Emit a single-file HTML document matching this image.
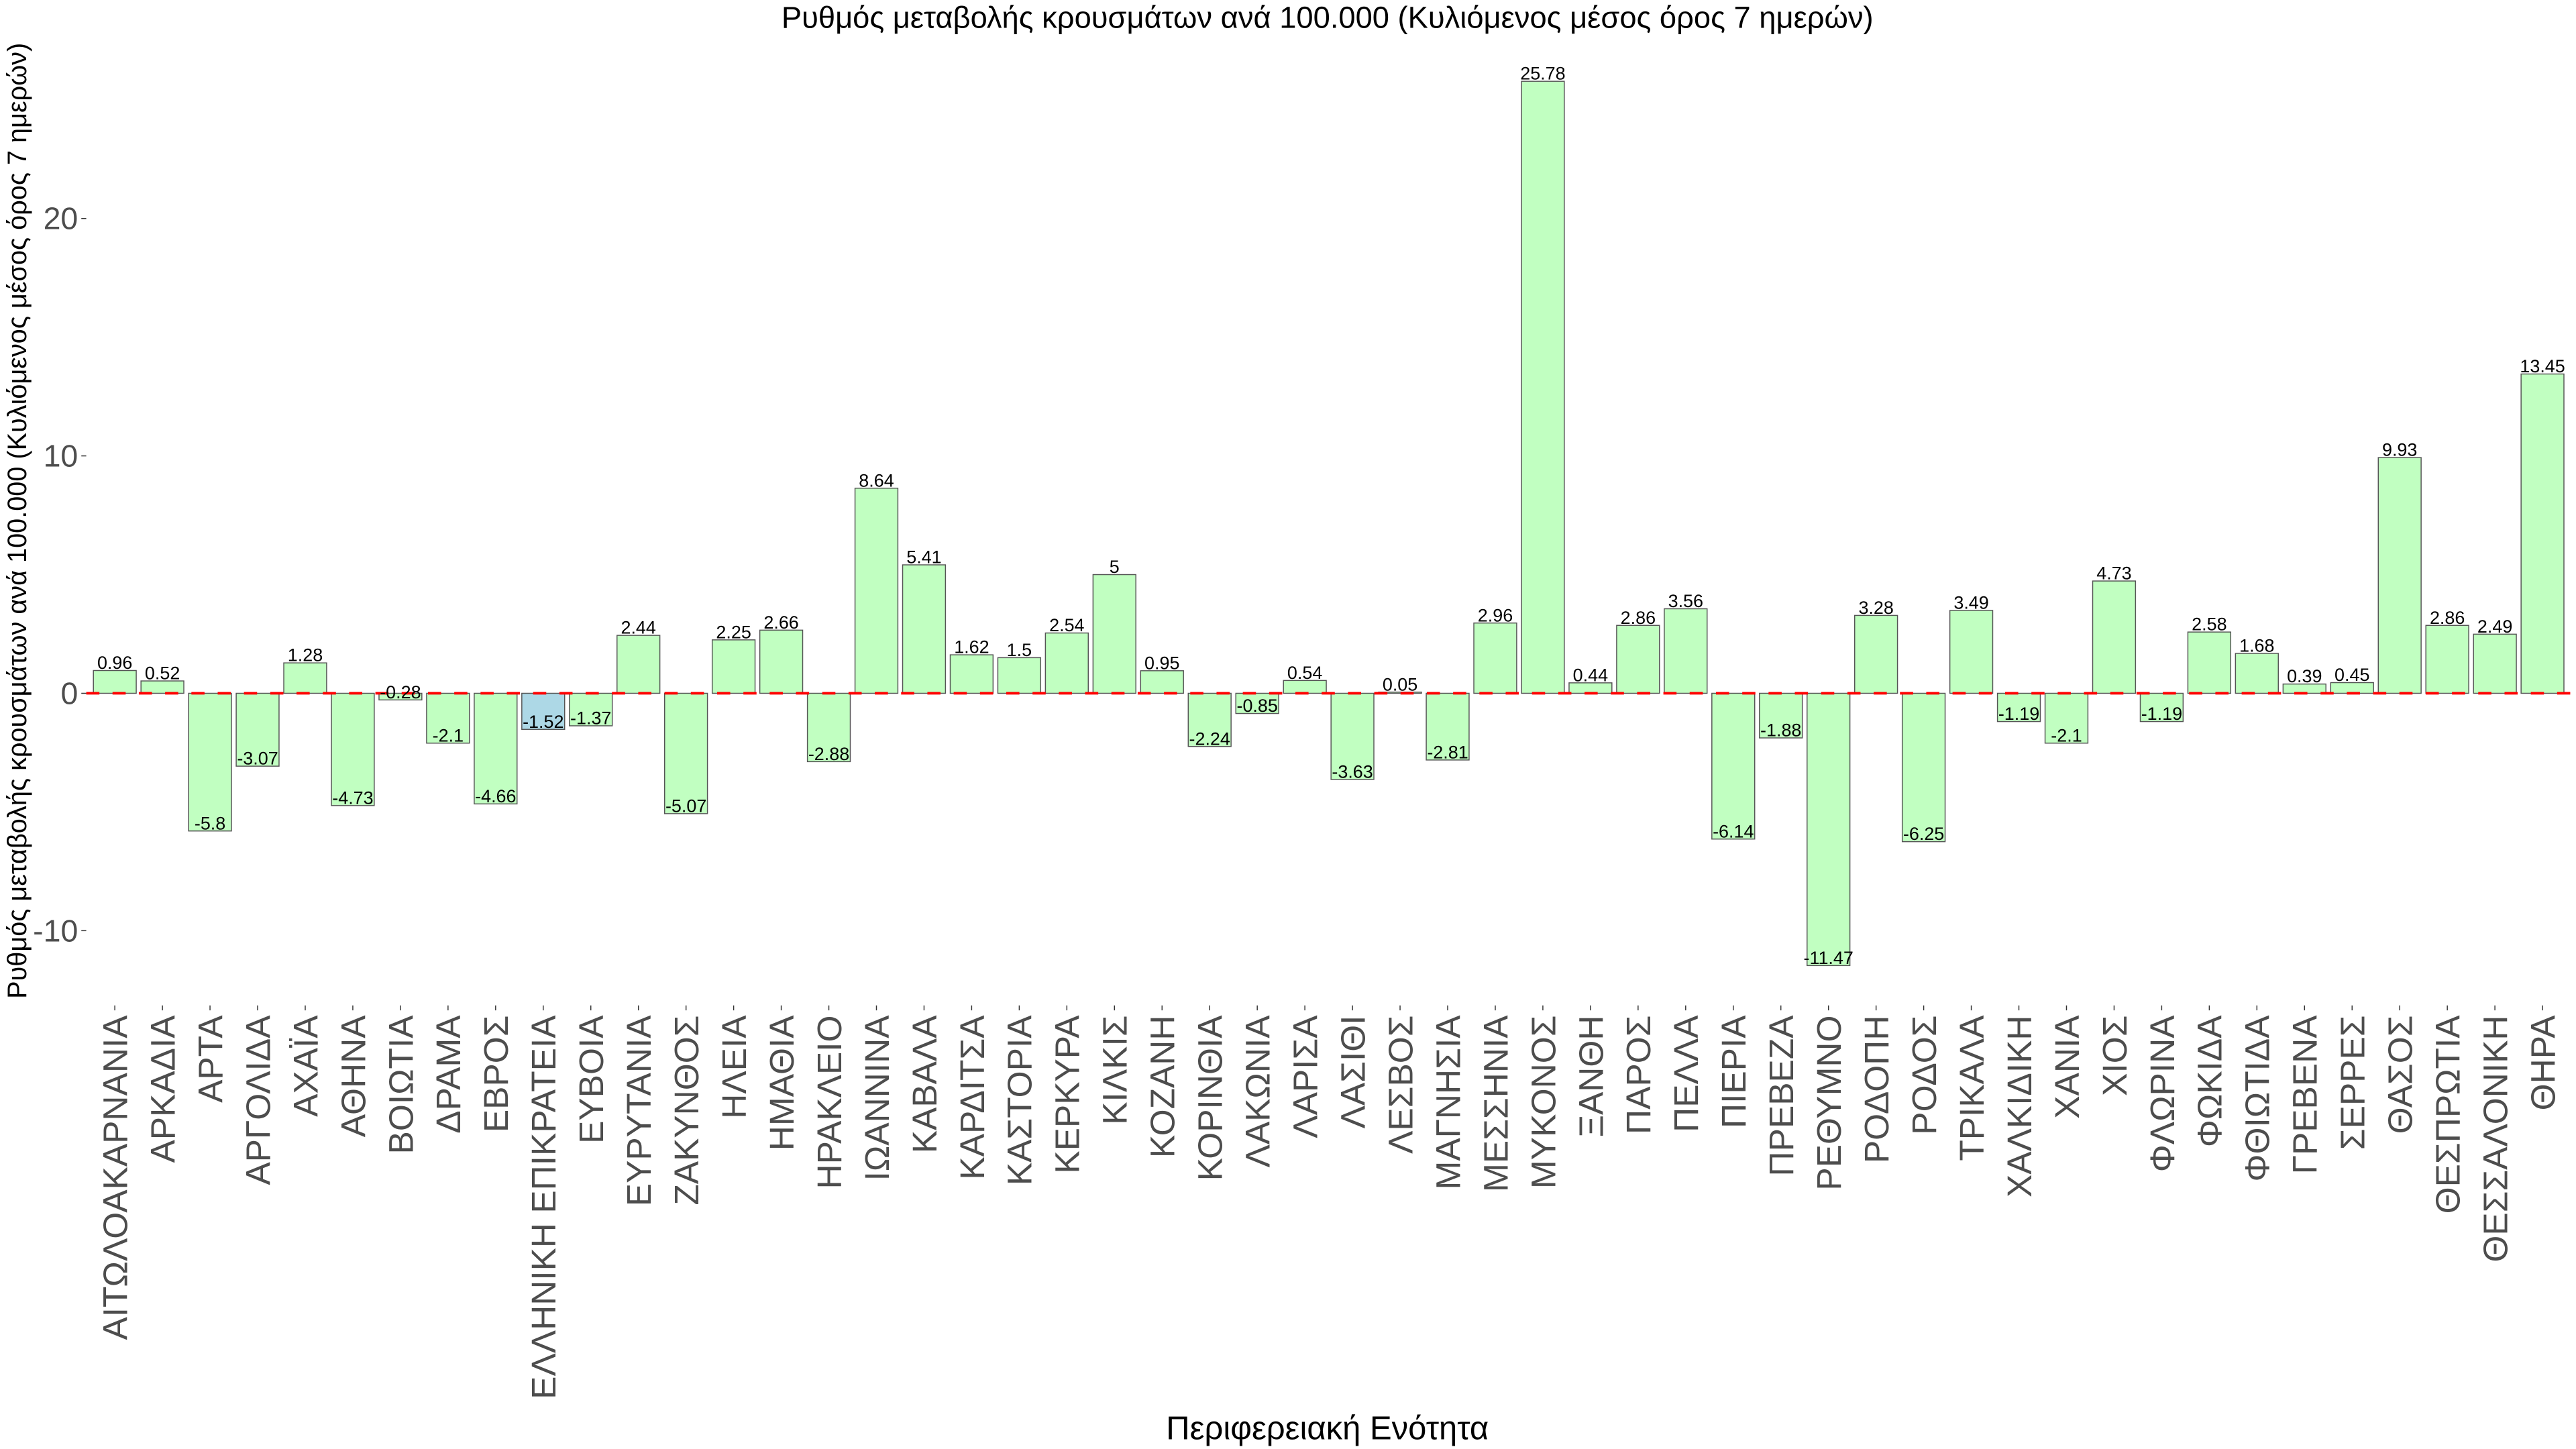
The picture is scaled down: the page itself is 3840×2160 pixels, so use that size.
<!DOCTYPE html>
<html><head><meta charset="utf-8">
<style>
html,body{margin:0;padding:0;background:#fff;}
svg{display:block;font-family:"Liberation Sans","DejaVu Sans",sans-serif;}
</style></head>
<body>
<svg id="chart" width="3840" height="2160" viewBox="0 0 1568 882" xmlns="http://www.w3.org/2000/svg">
  <rect x="0" y="0" width="1568" height="882" fill="#fff"/>
  <text x="808" y="17" text-anchor="middle" font-size="18.5" fill="#000">Ρυθμός μεταβολής κρουσμάτων ανά 100.000 (Κυλιόμενος μέσος όρος 7 ημερών)</text>
  <text transform="translate(16,317) rotate(-90)" text-anchor="middle" font-size="16.2" fill="#000">Ρυθμός μεταβολής κρουσμάτων ανά 100.000 (Κυλιόμενος μέσος όρος 7 ημερών)</text>
  <text x="808" y="876" text-anchor="middle" font-size="20" fill="#000">Περιφερειακή Ενότητα</text>
  <g id="yaxis"></g>
  <g id="bars"></g>
  <g id="refline"></g>
  <g id="vlabels"></g>
  <g id="xaxis"></g>
</svg>
<script>
const categories = ["ΑΙΤΩΛΟΑΚΑΡΝΑΝΙΑ","ΑΡΚΑΔΙΑ","ΑΡΤΑ","ΑΡΓΟΛΙΔΑ","ΑΧΑΪΑ","ΑΘΗΝΑ","ΒΟΙΩΤΙΑ","ΔΡΑΜΑ","ΕΒΡΟΣ","ΕΛΛΗΝΙΚΗ ΕΠΙΚΡΑΤΕΙΑ","ΕΥΒΟΙΑ","ΕΥΡΥΤΑΝΙΑ","ΖΑΚΥΝΘΟΣ","ΗΛΕΙΑ","ΗΜΑΘΙΑ","ΗΡΑΚΛΕΙΟ","ΙΩΑΝΝΙΝΑ","ΚΑΒΑΛΑ","ΚΑΡΔΙΤΣΑ","ΚΑΣΤΟΡΙΑ","ΚΕΡΚΥΡΑ","ΚΙΛΚΙΣ","ΚΟΖΑΝΗ","ΚΟΡΙΝΘΙΑ","ΛΑΚΩΝΙΑ","ΛΑΡΙΣΑ","ΛΑΣΙΘΙ","ΛΕΣΒΟΣ","ΜΑΓΝΗΣΙΑ","ΜΕΣΣΗΝΙΑ","ΜΥΚΟΝΟΣ","ΞΑΝΘΗ","ΠΑΡΟΣ","ΠΕΛΛΑ","ΠΙΕΡΙΑ","ΠΡΕΒΕΖΑ","ΡΕΘΥΜΝΟ","ΡΟΔΟΠΗ","ΡΟΔΟΣ","ΤΡΙΚΑΛΑ","ΧΑΛΚΙΔΙΚΗ","ΧΑΝΙΑ","ΧΙΟΣ","ΦΛΩΡΙΝΑ","ΦΩΚΙΔΑ","ΦΘΙΩΤΙΔΑ","ΓΡΕΒΕΝΑ","ΣΕΡΡΕΣ","ΘΑΣΟΣ","ΘΕΣΠΡΩΤΙΑ","ΘΕΣΣΑΛΟΝΙΚΗ","ΘΗΡΑ"];
const values = [0.96,0.52,-5.8,-3.07,1.28,-4.73,-0.28,-2.1,-4.66,-1.52,-1.37,2.44,-5.07,2.25,2.66,-2.88,8.64,5.41,1.62,1.5,2.54,5,0.95,-2.24,-0.85,0.54,-3.63,0.05,-2.81,2.96,25.78,0.44,2.86,3.56,-6.14,-1.88,-11.47,3.28,-6.25,3.49,-1.19,-2.1,4.73,-1.19,2.58,1.68,0.39,0.45,9.93,2.86,2.49,13.45];
const highlighted = ["ΕΛΛΗΝΙΚΗ ΕΠΙΚΡΑΤΕΙΑ"];
const yTicks = [-10,0,10,20];

const NS = "http://www.w3.org/2000/svg";
const plotLeft = 52.5, plotRight = 1565;
const band = (plotRight - plotLeft) / (categories.length + 0.2);
function xScale(i){ return plotLeft + band * (i + 0.6); }
const zeroY = 422, pxPerUnit = 14.45;
function yScale(v){ return zeroY - v * pxPerUnit; }
function mk(tag, attrs, parent){ const e = document.createElementNS(NS, tag); for (const k in attrs) e.setAttribute(k, attrs[k]); parent.appendChild(e); return e; }

const yaxis = document.getElementById('yaxis');
yTicks.forEach(t => {
  const y = yScale(t);
  const tk = mk('line', {x1: plotLeft-3, x2: plotLeft, y1: y, y2: y, stroke: '#333', 'stroke-width': 0.6}, yaxis);
  
  
  const lb = mk('text', {x: plotLeft-5, y: y+6.5, 'text-anchor': 'end', 'font-size': 19, fill: '#4d4d4d'}, yaxis);
  lb.textContent = String(t);
  
  
});

const bars = document.getElementById('bars');
const vl = document.getElementById('vlabels');
const xaxis = document.getElementById('xaxis');
const bw = band * 0.9;
categories.forEach((c, i) => {
  const v = values[i];
  const cx = xScale(i);
  const y0 = yScale(0), y1 = yScale(v);
  const r = mk('rect', {x: cx - bw/2, y: Math.min(y0,y1), width: bw, height: Math.max(Math.abs(y1-y0), 0.3),
    fill: highlighted.includes(c) ? '#add8e6' : '#c1ffc1', stroke: '#555', 'stroke-width': 0.6}, bars);
  
  
  const t = mk('text', {x: cx, y: y1 - 1, 'text-anchor': 'middle', 'font-size': 11, fill: '#000'}, vl);
  t.textContent = String(v);
  
  
  const tk = mk('line', {x1: cx, x2: cx, y1: 612, y2: 615, stroke: '#333', 'stroke-width': 0.6}, xaxis);
  
  
  const lb = mk('text', {transform: 'translate(' + (cx + 7.5) + ',618) rotate(-90)', 'text-anchor': 'end', 'font-size': 21, fill: '#4d4d4d'}, xaxis);
  lb.textContent = c;
  
  
});

const rl = mk('line', {x1: plotLeft, x2: plotRight, y1: yScale(0), y2: yScale(0), stroke: '#ff0000', 'stroke-width': 1.6, 'stroke-dasharray': '8 8'}, document.getElementById('refline'));


</script>
</body></html>
